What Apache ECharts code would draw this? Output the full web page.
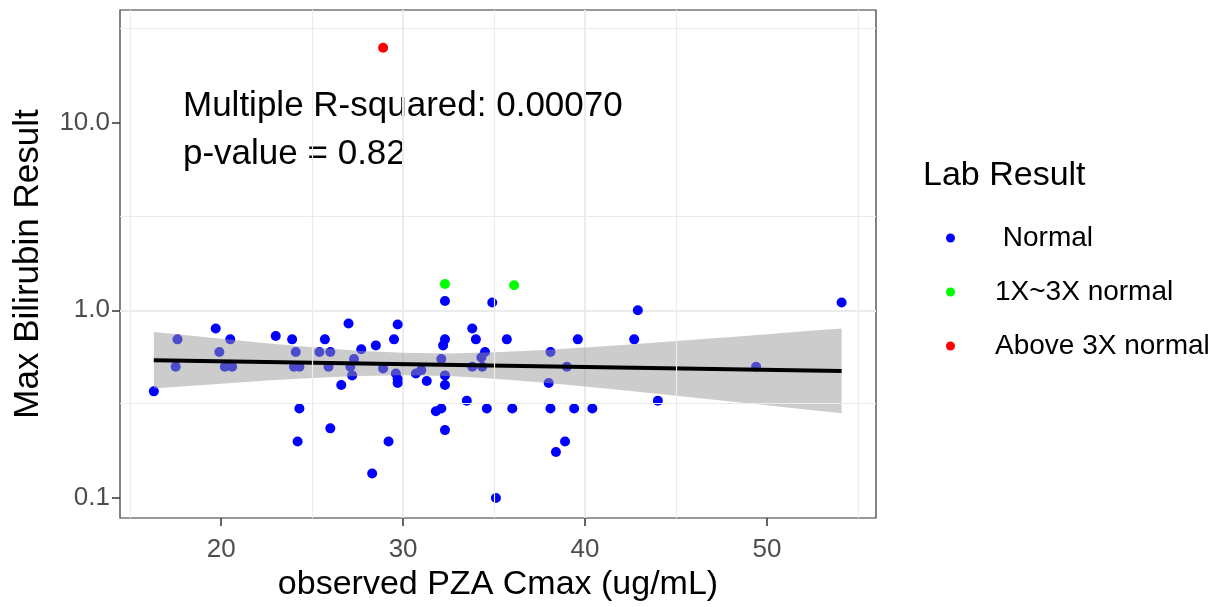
<!DOCTYPE html>
<html>
<head>
<meta charset="utf-8">
<script src="https://cdn.jsdelivr.net/npm/echarts@6/dist/echarts.min.js"></script>
<style>
html,body{margin:0;padding:0;background:#fff;}
#chart{width:1230px;height:607px;}
</style>
</head>
<body>
<div id="chart"></div>
<script>
// ---- data ----
const normalX = [16.3,17.6,17.5,19.7,19.9,20.5,20.2,20.6,23.0,23.9,24.1,24.0,24.3,24.3,24.2,25.4,25.7,26.0,25.9,27.0,26.6,26.0,27.3,27.1,27.2,27.7,28.5,28.3,28.9,29.2,29.5,29.7,29.6,29.7,29.7,30.7,31.0,31.3,31.8,32.1,32.1,32.3,32.3,32.2,32.3,32.3,32.3,33.5,33.8,34.0,33.8,34.35,34.3,34.5,34.6,34.9,35.1,35.7,36.0,38.1,38.0,38.1,38.4,38.9,39.0,39.6,39.4,40.4,42.7,42.9,44.0,49.4,54.1];
const normalY = [0.37,0.70,0.50,0.80,0.60,0.70,0.50,0.50,0.73,0.70,0.60,0.50,0.50,0.30,0.20,0.60,0.70,0.60,0.50,0.85,0.40,0.235,0.55,0.50,0.45,0.62,0.65,0.135,0.49,0.20,0.70,0.84,0.46,0.43,0.41,0.46,0.48,0.42,0.29,0.30,0.55,1.12,0.70,0.65,0.45,0.40,0.23,0.33,0.80,0.70,0.50,0.50,0.56,0.60,0.30,1.10,0.10,0.70,0.30,0.60,0.41,0.30,0.176,0.20,0.50,0.70,0.30,0.30,0.70,1.00,0.33,0.50,1.10];
const midX = [32.3, 36.1];
const midY = [1.38, 1.36];
const highX = [28.9];
const highY = [25.0];

const fitX = [16.3, 54.1];
const fitY = [0.542, 0.475];
const bandX    = [16.3, 18, 20, 22.5, 25, 27.5, 30, 32.5, 35, 37.5, 40, 42.5, 45, 47.5, 50, 52, 54.1];
const bandHigh = [0.767,0.738,0.705,0.667,0.635,0.609,0.593,0.589,0.597,0.612,0.634,0.658,0.685,0.714,0.745,0.772,0.800];
const bandLow  = [0.383,0.394,0.406,0.422,0.436,0.446,0.451,0.446,0.432,0.414,0.393,0.372,0.351,0.331,0.312,0.297,0.283];

const xTicks = [20, 30, 40, 50];
const yTicks = [0.1, 1, 10];
const yTickLabels = ['0.1', '1.0', '10.0'];
const minorX = [15, 25, 35, 45, 55];
const minorY = [0.3162, 3.162, 31.62];

const seriesNames = [' Normal', '1X~3X normal', 'Above 3X normal'];
const annotation = ['Multiple R-squared: 0.00070', 'p-value = 0.82'];

// ---- chart ----
const FONT = "'Liberation Sans', Arial, Helvetica, sans-serif";
const zip = (xs, ys) => xs.map((x, i) => [x, ys[i]]);

const chart = echarts.init(document.getElementById('chart'), null, {renderer: 'canvas'});

const bandData = bandX.map((x, i) => [x, bandLow[i], bandHigh[i]]);

const option = {
  animation: false,
  backgroundColor: '#ffffff',
  textStyle: {fontFamily: FONT},
  grid: {left: 120, right: 354, top: 10, bottom: 89, show: true,
         borderColor: '#333333', borderWidth: 1.2, backgroundColor: '#ffffff'},
  xAxis: {
    type: 'value', min: 14.44, max: 55.99,
    name: 'observed PZA Cmax (ug/mL)', nameLocation: 'middle', nameGap: 47,
    nameTextStyle: {fontSize: 34, color: '#000', fontFamily: FONT},
    axisLine: {show: false},
    axisTick: {show: true, length: 8, customValues: xTicks, lineStyle: {color: '#333', width: 1.5}},
    axisLabel: {customValues: xTicks, fontSize: 26, color: '#4d4d4d', margin: 19, fontFamily: FONT},
    splitLine: {show: true, showMinLine: false, showMaxLine: false, lineStyle: {color: '#ebebeb', width: 2}}
  },
  yAxis: {
    type: 'log', logBase: 10, min: 0.0783, max: 39.7,
    name: 'Max Bilirubin Result', nameLocation: 'middle', nameGap: 74, nameRotate: 90,
    nameTextStyle: {fontSize: 35, color: '#000', fontFamily: FONT},
    axisLine: {show: false},
    axisTick: {show: true, length: 8, customValues: yTicks, lineStyle: {color: '#333', width: 1.5}},
    axisLabel: {customValues: yTicks, fontSize: 26, color: '#4d4d4d', margin: 10, fontFamily: FONT,
      formatter: v => { const i = yTicks.findIndex(t => Math.abs(t - v) < 1e-9); return i >= 0 ? yTickLabels[i] : ''; }},
    splitLine: {show: true, showMinLine: false, showMaxLine: false, lineStyle: {color: '#ebebeb', width: 2}}
  },
  legend: {
    orient: 'vertical', left: 941, top: 218, itemWidth: 9, itemHeight: 9, itemGap: 24,
    icon: 'circle', data: seriesNames,
    textStyle: {fontSize: 28, color: '#000', fontFamily: FONT, lineHeight: 30, padding: [0, 0, 0, 35]}
  },
  graphic: [
    {type: 'text', left: 183, top: 82, silent: true,
     style: {text: annotation.join('\n'), font: '35px ' + FONT, fill: '#000', lineHeight: 48}},
    {type: 'text', left: 923, top: 159, silent: true,
     style: {text: 'Lab Result', font: '34px ' + FONT, fill: '#000'}}
  ],
  series: [
    {
      name: 'minor-grid', type: 'line', data: [], z: 1, silent: true,
      markLine: {silent: true, symbol: ['none', 'none'], label: {show: false}, animation: false,
        lineStyle: {type: 'solid', color: '#ebebeb', width: 1.2},
        data: minorX.map(v => ({xAxis: v})).concat(minorY.map(v => ({yAxis: v})))}
    },
    {name: seriesNames[0], type: 'scatter', data: zip(normalX, normalY), symbolSize: 10, z: 2,
     itemStyle: {color: '#0000ff', opacity: 1}},
    {name: seriesNames[1], type: 'scatter', data: zip(midX, midY), symbolSize: 10, z: 2,
     itemStyle: {color: '#00ff00', opacity: 1}},
    {name: seriesNames[2], type: 'scatter', data: zip(highX, highY), symbolSize: 10, z: 2,
     itemStyle: {color: '#ff0000', opacity: 1}},
    {
      name: 'band', type: 'custom', data: bandData, z: 3, silent: true,
      encode: {x: 0, y: [1, 2]},
      renderItem: function (params, api) {
        if (params.dataIndex !== 0) return null;
        const upper = bandData.map(d => api.coord([d[0], d[2]]));
        const lower = bandData.slice().reverse().map(d => api.coord([d[0], d[1]]));
        return {type: 'polygon', shape: {points: upper.concat(lower)},
                style: {fill: 'rgba(153,153,153,0.5)', stroke: null}};
      }
    },
    {name: 'fit', type: 'line', data: zip(fitX, fitY), z: 4, symbol: 'none', silent: true,
     lineStyle: {color: '#000', width: 4}}
  ]
};
chart.setOption(option);
</script>
</body>
</html>
